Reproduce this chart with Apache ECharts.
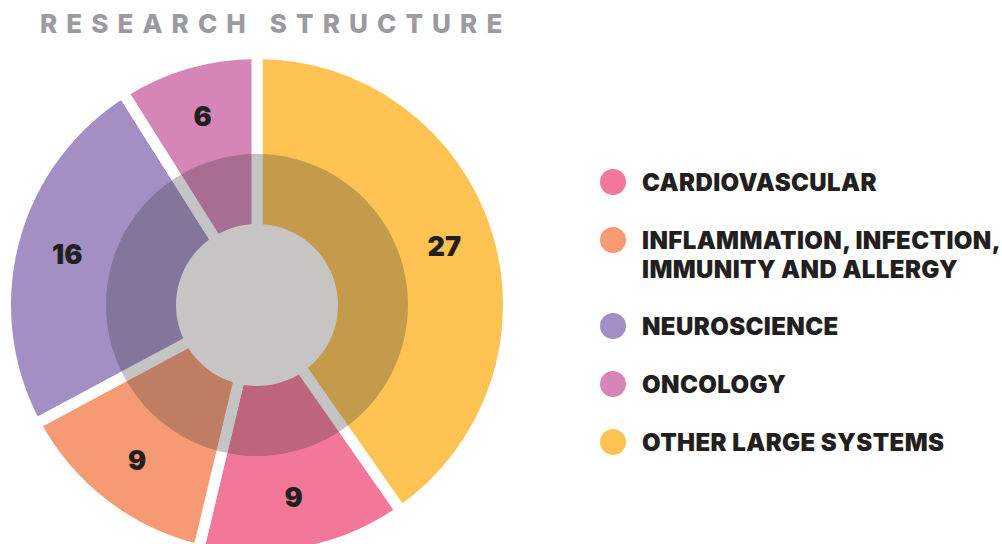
<!DOCTYPE html>
<html>
<head>
<meta charset="utf-8">
<script src="https://cdn.jsdelivr.net/npm/echarts@6/dist/echarts.min.js"></script>
<style>
html,body{margin:0;padding:0;background:#fff;}
#main{width:1002px;height:544px;}
</style>
</head>
<body>
<div id="main"></div>
<script>
const titleText = 'RESEARCH STRUCTURE';
const categories = ['CARDIOVASCULAR', 'INFLAMMATION, INFECTION,\nIMMUNITY AND ALLERGY', 'NEUROSCIENCE', 'ONCOLOGY', 'OTHER LARGE SYSTEMS'];
const values = [9, 9, 16, 6, 27];
const colors = ['#f27799', '#f69a74', '#a38fc4', '#d685b7', '#fec352'];
const sliceOrder = [4, 0, 1, 2, 3];

const FONT = 'Inter, "Noto Sans", sans-serif';
const center = [257, 305];

const pieData = sliceOrder.map(i => ({ name: categories[i], value: values[i], itemStyle: { color: colors[i] } }));
const labelData = sliceOrder.map(i => ({ name: categories[i], value: values[i] }));

const rich = {
  g: { width: 16 },
  sp: { width: 42 },
  t: { fontFamily: FONT, fontSize: 24, fontWeight: 900, color: '#231f20', lineHeight: 29, verticalAlign: 'middle' }
};
colors.forEach((c, i) => {
  rich['d' + i] = { width: 26, height: 26, borderRadius: 13, backgroundColor: c, verticalAlign: 'middle' };
});

const chart = echarts.init(document.getElementById('main'), null, { renderer: 'svg' });
chart.setOption({
  animation: false,
  backgroundColor: '#fff',
  title: {
    text: titleText,
    left: 40,
    top: 10,
    padding: 0,
    textStyle: { fontFamily: FONT, fontSize: 26, fontWeight: 800, color: '#9b9a9e' }
  },
  legend: {
    orient: 'vertical',
    left: 594,
    top: 169,
    padding: 0,
    itemGap: 32,
    itemWidth: 0,
    itemHeight: 0,
    selectedMode: false,
    data: categories,
    formatter: function (name) {
      const idx = categories.indexOf(name);
      return name.split('\n').map((l, i) => i === 0 ? '{d' + idx + '|}{g|}{t|' + l + '}' : '{sp|}{t|' + l + '}').join('\n');
    },
    textStyle: { rich: rich, color: '#231f20' }
  },
  series: [
    {
      name: 'main',
      type: 'pie',
      center: center,
      radius: [0, 251.5],
      startAngle: 90,
      clockwise: true,
      silent: true,
      label: { show: false },
      labelLine: { show: false },
      itemStyle: { borderColor: '#ffffff', borderWidth: 11 },
      data: pieData
    },
    {
      type: 'pie',
      center: center,
      radius: [80, 151],
      silent: true,
      label: { show: false },
      labelLine: { show: false },
      itemStyle: { color: 'rgba(62,61,60,0.3)', borderWidth: 0 },
      data: [{ value: 1, name: '' }]
    },
    {
      type: 'pie',
      center: center,
      radius: [0, 81],
      silent: true,
      label: { show: false },
      labelLine: { show: false },
      itemStyle: { color: '#c6c5c4', borderWidth: 0 },
      data: [{ value: 1, name: '' }]
    },
    {
      name: 'labels',
      type: 'pie',
      center: center,
      radius: [135, 251.5],
      startAngle: 90,
      clockwise: true,
      silent: true,
      legendHoverLink: false,
      itemStyle: { color: 'rgba(0,0,0,0)', borderWidth: 0 },
      label: {
        show: true,
        position: 'inside',
        formatter: '{c}',
        fontFamily: FONT,
        fontSize: 27,
        fontWeight: 900,
        color: '#231f20'
      },
      labelLine: { show: false },
      data: labelData
    }
  ]
});

const legendLines = new Set();
categories.forEach(c => c.split('\n').forEach(l => legendLines.add(l)));
function spaceText() {
  document.querySelectorAll('#main svg text').forEach(t => {
    if (t.textContent === titleText) t.style.letterSpacing = '9.1px';
    else if (legendLines.has(t.textContent)) t.style.letterSpacing = '0.4px';
  });
}
chart.on('finished', spaceText);
spaceText();
setTimeout(spaceText, 50);
</script>
</body>
</html>
